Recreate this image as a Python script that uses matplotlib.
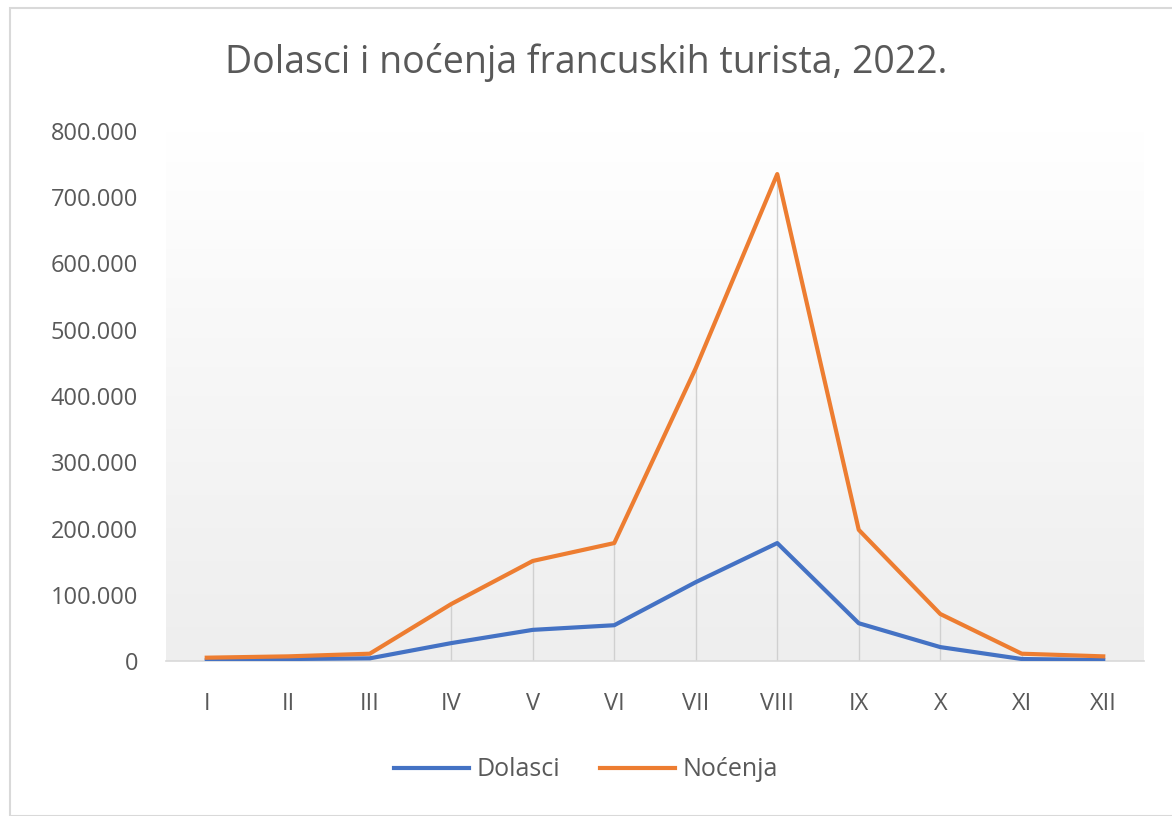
import matplotlib.pyplot as plt
import numpy as np
from matplotlib.patches import Rectangle
from matplotlib.ticker import FuncFormatter
from matplotlib.colors import LinearSegmentedColormap

months = ['I', 'II', 'III', 'IV', 'V', 'VI', 'VII', 'VIII', 'IX', 'X', 'XI', 'XII']
dolasci = [1000, 3000, 4000, 27000, 47000, 54000, 119000, 178000, 57000, 21000, 3000, 1500]
nocenja = [5000, 7000, 11000, 86000, 151000, 178000, 442000, 735000, 198000, 71000, 11000, 7000]

plt.rcParams['font.family'] = ['Open Sans', 'DejaVu Sans']

fig = plt.figure(figsize=(11.72, 8.16), dpi=100)
ax = fig.add_axes([166 / 1172, 1 - 661 / 816, 978 / 1172, 530 / 816])

# vertical gradient background: white at top, light grey at bottom
grad = np.linspace(1.0, 0.0, 256).reshape(-1, 1)
ax.imshow(grad, extent=[0, 1, 0, 1], transform=ax.transAxes, aspect='auto',
          cmap=LinearSegmentedColormap.from_list('g', ['#eeeeee', '#f6f6f6', '#ffffff']), zorder=0)

x = np.arange(len(months))
# drop lines from the top series down to the axis
ax.vlines(x, 0, np.maximum(dolasci, nocenja), color='#d0d0d0', lw=1, zorder=1)
ax.plot(x, dolasci, color='#4472c4', lw=3, label='Dolasci', zorder=3)
ax.plot(x, nocenja, color='#ed7d31', lw=3, label='Noćenja', zorder=3)

ax.set_xlim(-0.5, 11.5)
ax.set_ylim(0, 800000)
ax.set_yticks(np.arange(0, 800001, 100000))
ax.yaxis.set_major_formatter(FuncFormatter(lambda v, p: f'{int(v):,}'.replace(',', '.')))
ax.set_xticks(x)
ax.set_xticklabels(months)

for s in ['top', 'right', 'left']:
    ax.spines[s].set_visible(False)
ax.spines['bottom'].set_color('#d9d9d9')
ax.spines['bottom'].set_linewidth(1.2)
ax.tick_params(axis='both', length=0, labelsize=17, colors='#595959')
ax.tick_params(axis='x', pad=22)
ax.tick_params(axis='y', pad=20)

fig.text(0.5, 1 - 62 / 816, 'Dolasci i noćenja francuskih turista, 2022.', ha='center', va='center',
         fontsize=27, color='#595959')

fig.legend(loc='center', bbox_to_anchor=(0.5, 1 - 770 / 816), ncol=2, frameon=False,
           fontsize=18, labelcolor='#595959', handlelength=3.0, columnspacing=1.6, handletextpad=0.3)

fig.patches.append(Rectangle((10 / 1172, 0), 1, 1 - 8 / 816, transform=fig.transFigure,
                             fill=False, edgecolor='#d9d9d9', lw=1.5))

fig.savefig('out.png', dpi=100)
